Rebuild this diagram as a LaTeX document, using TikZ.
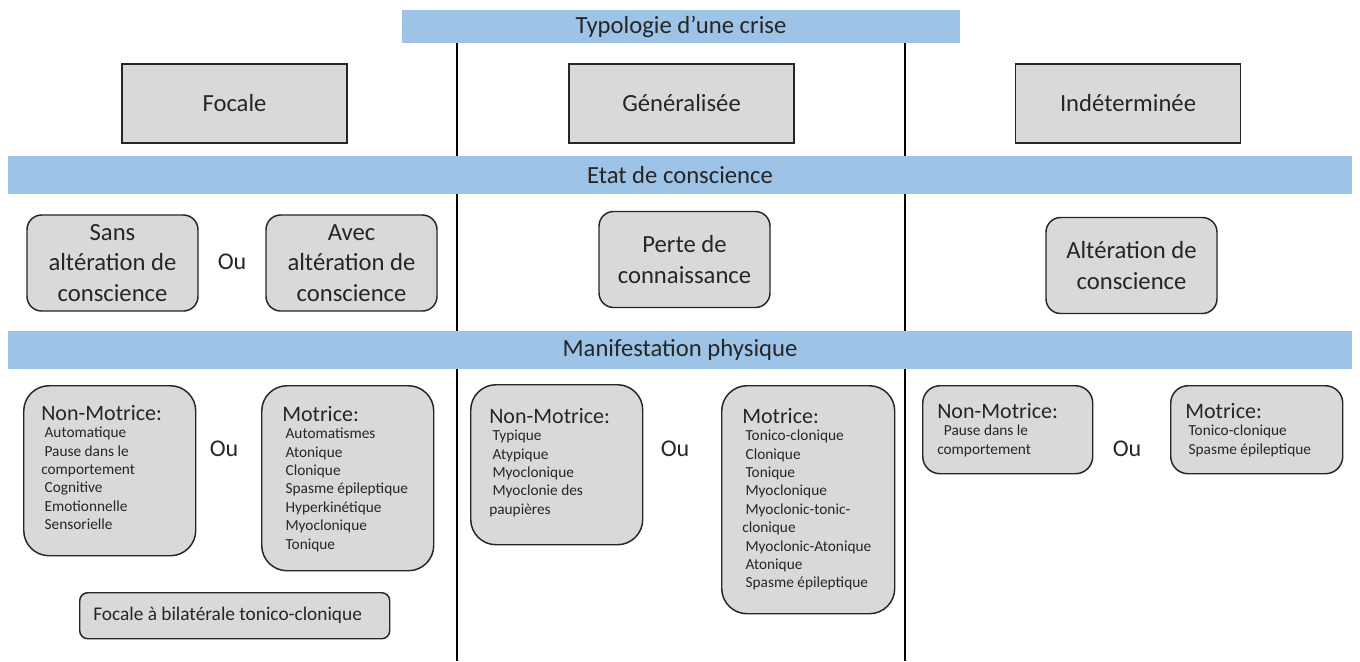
\documentclass[tikz,border=0pt]{standalone}
\usepackage{fontspec}
\setmainfont{Carlito}
\usepackage{tikz}
\usetikzlibrary{positioning}
\definecolor{barblue}{HTML}{9DC3E6}
\definecolor{boxgray}{HTML}{D9D9D9}
\definecolor{ink}{HTML}{262626}
\newcommand{\retrait}{\hspace*{2.5pt}}
\newcommand{\titrefont}{\fontsize{16.5}{18}\selectfont}

\begin{document}
\begin{tikzpicture} [x=0.75pt,y=-0.75pt,
  bar/.style={fill=barblue,inner sep=0pt,text=ink,font=\fontsize{18.5}{22}\selectfont},
  typebox/.style={draw=black!85,fill=boxgray,line width=1.1pt,text=ink,
    minimum width=168.75pt,minimum height=59.25pt,font=\fontsize{18.5}{22}\selectfont},
  etatbox/.style={draw=black!85,fill=boxgray,line width=1.1pt,rounded corners=11pt,text=ink,
    minimum width=128.25pt,minimum height=72pt,align=center,inner sep=0pt,
    font=\fontsize{18.5}{22.9}\selectfont},
  manbox/.style={draw=black!85,fill=boxgray,line width=1.1pt,rounded corners=19pt,
    anchor=north west,inner sep=0pt},
  mantext/.style={anchor=north west,inner sep=0pt,align=left,text=ink,
    font=\fontsize{11.5}{13.8}\selectfont},
  ou/.style={text=ink,font=\fontsize{18}{20}\selectfont},
  sep/.style={line width=2pt,black}]
\useasboundingbox (0,0) rectangle (1360,661);

% separating lines
\coordinate (l1top) at (457,43);
\coordinate (l1bot) at (457,661);
\coordinate (l2top) at (905,43);
\coordinate (l2bot) at (905,661);
\draw[sep] (l1top)--(l1bot);
\draw[sep] (l2top)--(l2bot);

% bars
\node[bar,minimum width=418.5pt,minimum height=24.75pt] (typo) at (681,26.5) {Typologie d'une crise};
\node[bar,minimum width=1008pt,minimum height=28.5pt] (etat) at (680,175) {Etat de conscience};
\node[bar,minimum width=1008pt,minimum height=28.5pt] (manif) at (680,350) {Manifestation physique};

% type de crise
\node[typebox] (focale) at (234.5,103.5) {Focale};
\node[typebox] (general) at (681.5,103.5) {Généralisée};
\node[typebox] (indet) at (1128,103.5) {Indéterminée};

% etat de conscience
\node[etatbox] (sans) at (112.5,263) {Sans\\altération de\\conscience};
\node[ou] (ou1) at (232,262) {Ou};
\node[etatbox] (avec) at (351.5,263) {Avec\\altération de\\conscience};
\node[etatbox] (perte) at (684.5,259.5) {Perte de\\connaissance};
\node[etatbox] (alter) at (1131.5,265.5) {Altération de\\conscience};

% focale
\node[manbox,minimum width=129pt,minimum height=127.5pt] (fnm) at (23,385) {};
\node[mantext] (fnmt) at (41,405) {{\titrefont Non-Motrice:}\\[-0.8pt]
\retrait Automatique\\ \retrait Pause dans le\\comportement\\ \retrait Cognitive\\
\retrait Emotionnelle\\ \retrait Sensorielle};
\node[ou] (ou2) at (224,449) {Ou};
\node[manbox,minimum width=129pt,minimum height=138.75pt] (fm) at (261,385) {};
\node[mantext] (fmt) at (282,406) {{\titrefont Motrice:}\\[-0.8pt]
\retrait Automatismes\\ \retrait Atonique\\ \retrait Clonique\\ \retrait Spasme épileptique\\
\retrait Hyperkinétique\\ \retrait Myoclonique\\ \retrait Tonique};
\node[manbox,rounded corners=6pt,minimum width=232.5pt,minimum height=34.5pt] (bilat) at (79,592) {};
\node[anchor=west,inner sep=0pt,text=ink,font=\fontsize{14.5}{17}\selectfont] (bilatt) at (93,615)
  {Focale à bilatérale tonico-clonique};

% generalisee
\node[manbox,minimum width=129pt,minimum height=120pt] (gnm) at (470,384) {};
\node[mantext] (gnmt) at (489,408) {{\titrefont Non-Motrice:}\\[-0.8pt]
\retrait Typique\\ \retrait Atypique\\ \retrait Myoclonique\\ \retrait Myoclonie des\\paupières};
\node[ou] (ou3) at (675,449) {Ou};
\node[manbox,minimum width=129.75pt,minimum height=171pt] (gm) at (721,385) {};
\node[mantext] (gmt) at (742,408) {{\titrefont Motrice:}\\[-0.8pt]
\retrait Tonico-clonique\\ \retrait Clonique\\ \retrait Tonique\\ \retrait Myoclonique\\
\retrait Myoclonic-tonic-\\clonique\\ \retrait Myoclonic-Atonique\\ \retrait Atonique\\
\retrait Spasme épileptique};

% indeterminee
\node[manbox,rounded corners=13pt,minimum width=127.5pt,minimum height=66pt] (inm) at (922,385) {};
\node[mantext] (inmt) at (937,403) {{\titrefont Non-Motrice:}\\[-0.8pt]
\retrait\retrait Pause dans le\\comportement};
\node[ou] (ou4) at (1127,449) {Ou};
\node[manbox,rounded corners=13pt,minimum width=129pt,minimum height=66pt] (im) at (1170,385) {};
\node[mantext] (imt) at (1185,403) {{\titrefont Motrice:}\\[-0.8pt]
\retrait Tonico-clonique\\ \retrait Spasme épileptique};

\end{tikzpicture}
\end{document}
